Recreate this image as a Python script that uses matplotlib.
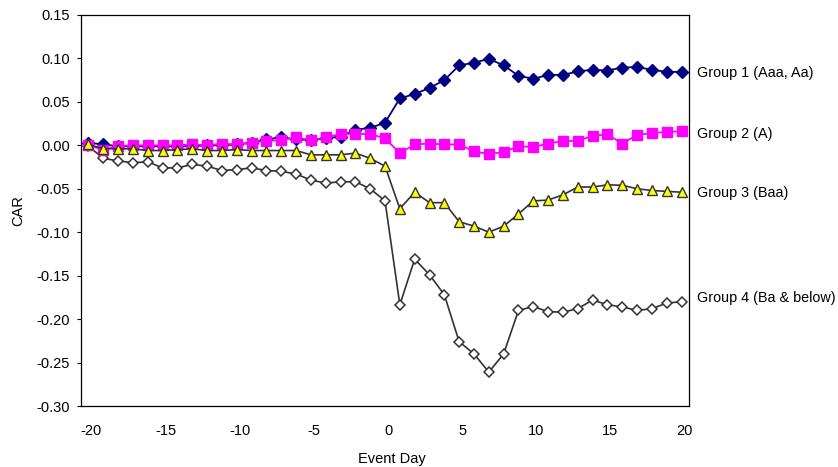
import numpy as np
import matplotlib
matplotlib.use("Agg")
import matplotlib.pyplot as plt
import matplotlib.transforms as mtransforms

plt.rcParams["font.family"] = ["Liberation Sans", "DejaVu Sans"]
plt.rcParams["axes.unicode_minus"] = False

# event days -20 .. 20
days = list(range(-20, 21))

group1 = [0.003, 0.001, -0.001, -0.001, -0.001, -0.001, -0.001, -0.001, 0.0, 0.0,
          0.001, 0.003, 0.007, 0.009, 0.007, 0.006, 0.008, 0.010, 0.018, 0.020,
          0.026, 0.054, 0.059, 0.066, 0.075, 0.092, 0.095, 0.0995, 0.092, 0.080,
          0.0765, 0.081, 0.081, 0.085, 0.087, 0.086, 0.0895, 0.090, 0.087, 0.0845,
          0.0845]
group2 = [0.0, -0.005, -0.001, 0.0, 0.0, 0.0, 0.0, 0.001, 0.0, 0.002,
          0.001, 0.003, 0.005, 0.006, 0.009, 0.006, 0.009, 0.013, 0.013, 0.013,
          0.008, -0.009, 0.001, 0.002, 0.001, 0.001, -0.007, -0.010, -0.008, -0.001,
          -0.002, 0.002, 0.005, 0.005, 0.011, 0.0125, 0.002, 0.012, 0.014, 0.0155,
          0.016]
group3 = [0.001, -0.004, -0.004, -0.004, -0.006, -0.006, -0.005, -0.004, -0.006, -0.006,
          -0.005, -0.006, -0.006, -0.006, -0.006, -0.011, -0.011, -0.011, -0.009, -0.015,
          -0.024, -0.073, -0.054, -0.066, -0.066, -0.088, -0.093, -0.100, -0.093, -0.079,
          -0.064, -0.063, -0.057, -0.048, -0.048, -0.0455, -0.046, -0.050, -0.052, -0.053,
          -0.054]
group4 = [-0.001, -0.015, -0.018, -0.020, -0.019, -0.026, -0.026, -0.022, -0.024, -0.029,
          -0.028, -0.026, -0.029, -0.030, -0.033, -0.040, -0.0435, -0.042, -0.042, -0.050,
          -0.064, -0.1835, -0.131, -0.149, -0.172, -0.226, -0.240, -0.261, -0.240, -0.190,
          -0.1855, -0.1915, -0.192, -0.188, -0.178, -0.1835, -0.186, -0.190, -0.188, -0.1815,
          -0.180]

labels = ["Group 1 (Aaa, Aa)", "Group 2 (A)", "Group 3 (Baa)", "Group 4 (Ba & below)"]
label_y = [0.083, 0.013, -0.055, -0.176]

yticks = [0.15, 0.10, 0.05, 0.00, -0.05, -0.10, -0.15, -0.20, -0.25, -0.30]
xticks = [-20, -15, -10, -5, 0, 5, 10, 15, 20]

fig = plt.figure(figsize=(8.38, 4.67), dpi=100)
ax = fig.add_axes([0.0967, 0.1306, 0.7255, 0.8374])

dark = "#333333"
ax.plot(days, group1, color="#000080", lw=1.3, marker="D", ms=6,
        mfc="#000080", mec="#000080", zorder=2)
ax.plot(days, group4, color=dark, lw=1.2, marker="D", ms=5,
        mfc="white", mec=dark, mew=1.1, zorder=2)
ax.plot(days, group2, color="#FF00FF", lw=1.3, marker="s", ms=7.5,
        mfc="#FF00FF", mec="#FF00FF", zorder=3)
ax.plot(days, group3, color=dark, lw=1.2, marker="^", ms=7.2,
        mfc="#FFFF00", mec=dark, mew=1.0, zorder=4)

for lab, y in zip(labels, label_y):
    ax.text(21.05, y, lab, fontsize=10.4, va="center", ha="left", clip_on=False)

ax.set_xlim(-20.5, 20.5)
ax.set_ylim(-0.30, 0.15)
ax.set_yticks(yticks)
ax.set_yticklabels([f"{v:.2f}" for v in yticks])
ax.set_xticks(xticks)
ax.tick_params(axis="y", direction="out", length=3, width=0.8, pad=5, labelsize=10.5)
ax.tick_params(axis="x", length=0, pad=13, labelsize=10.5)

# excel puts the category labels a little to the right
shift = mtransforms.ScaledTranslation(3 / 100, 0, fig.dpi_scale_trans)
for t in ax.get_xticklabels():
    t.set_transform(t.get_transform() + shift)

for s in ax.spines.values():
    s.set_linewidth(0.9)
    s.set_color("black")

ax.set_ylabel("CAR", fontsize=10.5, labelpad=8)
fig.text(392 / 838, 1 - 459 / 467, "Event Day", fontsize=10.5, ha="center", va="center")

fig.savefig("out.png", dpi=100)
